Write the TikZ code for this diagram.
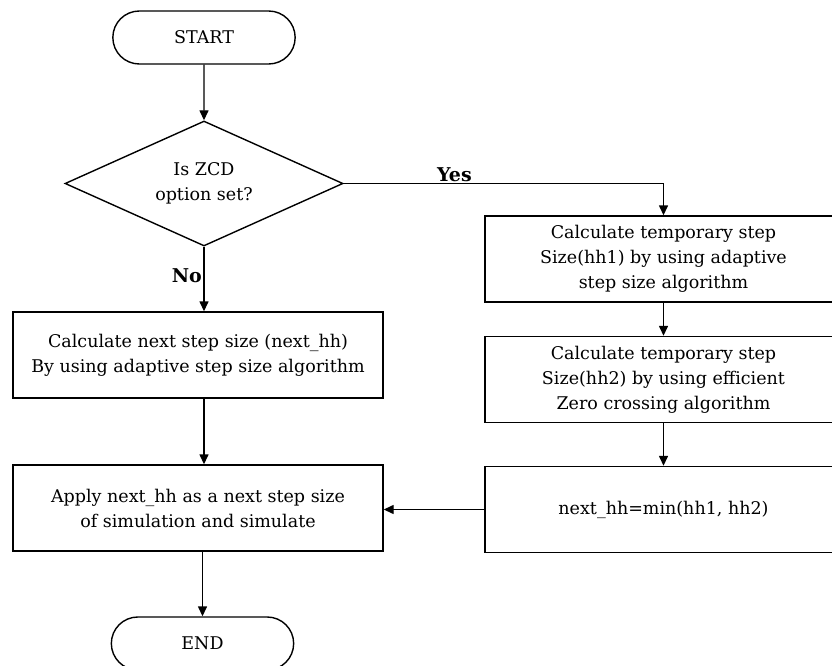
\documentclass[tikz,border=0pt]{standalone}
\usepackage{fontspec}
\setmainfont{DejaVu Serif}
\usetikzlibrary{positioning,arrows.meta,shapes.geometric,shapes.misc}
\tikzset{
  term/.style     = {draw, rounded rectangle, line width=1.4pt,
                     minimum width=189pt, minimum height=53pt,
                     font=\fontsize{17.5}{25}\selectfont},
  decide/.style   = {draw, diamond, aspect=2.2, line width=1.4pt, inner sep=0pt,
                     minimum width=278pt, minimum height=125pt, align=center,
                     font=\fontsize{17.5}{25}\selectfont},
  procbox/.style  = {draw, rectangle, line width=1.4pt, align=center,
                     minimum height=86pt, font=\fontsize{17.5}{25}\selectfont},
  leftbox/.style  = {procbox, minimum width=370pt},
  rightbox/.style = {procbox, minimum width=357pt},
  flow/.style     = {-{Triangle[length=10pt,width=9pt]}, line width=1.4pt},
  answer/.style   = {font=\fontsize{19}{22}\selectfont\bfseries, inner sep=1.5pt}
}
\begin{document}
\begin{tikzpicture}[x=1pt,y=-1pt]
  \useasboundingbox (0,0) rectangle (832,666);

  % Start, decision and the "No" column
  \node[term]              (start)  at (204,37.5)  {START};
  \node[decide]            (zcd)    at (204,183.5) {Is ZCD\\option set?};
  \node[leftbox]           (nexthh) at (198,355)   {Calculate next step size (next\_hh)\\By using adaptive step size algorithm};
  \node[leftbox]           (apply)  at (198,508)   {Apply next\_hh as a next step size\\of simulation and simulate};
  \node[term]              (stop)   at (202.5,643.5) {END};

  % The "Yes" column
  \node[rightbox]          (hh1)    at (663.5,259)   {Calculate temporary step\\Size(hh1) by using adaptive\\step size algorithm};
  \node[rightbox]          (hh2)    at (663.5,379.5) {Calculate temporary step\\Size(hh2) by using efficient\\Zero crossing algorithm};
  \node[rightbox]          (minhh)  at (663.5,509.5) {next\_hh=min(hh1, hh2)};

  % Connectors
  \draw[flow] (start) -- (zcd);
  \draw[flow] (zcd.south) -- (zcd.south |- nexthh.north)
    node[answer, pos=0.45, left] {No};
  \draw[flow] (zcd.east) -| (hh1.north)
    node[answer, pos=0.173, above] {Yes};
  \draw[flow] (zcd.south |- nexthh.south) -- (zcd.south |- apply.north);
  \draw[flow] (hh1) -- (hh2);
  \draw[flow] (hh2) -- (minhh);
  \draw[flow] (minhh.west) -- (minhh.west -| apply.east);
  \draw[flow] (stop.north |- apply.south) -- (stop.north);

\end{tikzpicture}
\end{document}
